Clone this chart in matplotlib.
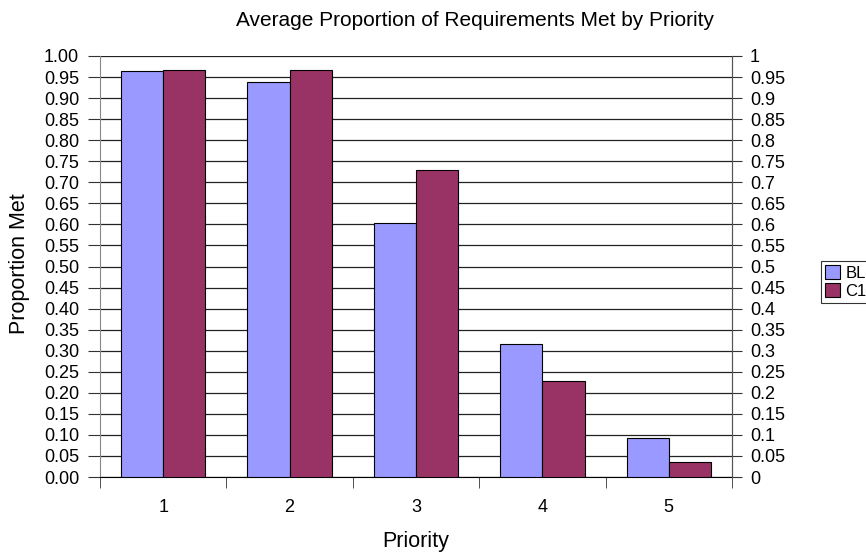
import matplotlib
matplotlib.use("Agg")
import matplotlib.pyplot as plt
import numpy as np

plt.rcParams['font.family'] = ['Liberation Sans', 'DejaVu Sans']

priorities = ["1", "2", "3", "4", "5"]
bl_values = [0.965, 0.938, 0.603, 0.316, 0.092]
c1_values = [0.967, 0.967, 0.729, 0.227, 0.035]
series_names = ["BL", "C1"]
left_ticks = [f"{v:.2f}" for v in np.arange(0, 1.0001, 0.05)]
right_ticks = ["0", "0.05", "0.1", "0.15", "0.2", "0.25", "0.3", "0.35", "0.4", "0.45",
               "0.5", "0.55", "0.6", "0.65", "0.7", "0.75", "0.8", "0.85", "0.9", "0.95", "1"]

fig = plt.figure(figsize=(8.66, 5.55), dpi=100)
ax = fig.add_axes([100/866, 1-477/555, 632/866, 421/555])

x = np.arange(len(priorities))
w = 1/3
ax.bar(x - w/2, bl_values, w, color="#9999FF", edgecolor="black", linewidth=0.8,
       label=series_names[0], zorder=3)
ax.bar(x + w/2, c1_values, w, color="#993366", edgecolor="black", linewidth=0.8,
       label=series_names[1], zorder=3)

tick_fs = 13
yt = np.arange(0, 1.0001, 0.05)
ax.set_ylim(0, 1.0)
ax.set_xlim(-0.5, len(priorities) - 0.5)
ax.set_yticks(yt)
ax.set_yticklabels(left_ticks, fontsize=tick_fs)
ax.yaxis.grid(True, color="#222222", linewidth=0.9, zorder=0)
ax.set_axisbelow(True)

# category labels centered, tick marks at category boundaries
ax.set_xticks(x)
ax.set_xticklabels(priorities, fontsize=tick_fs)
ax.tick_params(axis="x", length=0, pad=16)
ax.set_xticks(np.arange(-0.5, len(priorities)), minor=True)
ax.tick_params(axis="x", which="minor", length=8, direction="out", color="#333333")
ax.tick_params(axis="y", length=9, direction="out", color="#333333", pad=6)

ax.spines["top"].set_visible(False)
ax.spines["left"].set_color("#888888")
ax.spines["right"].set_color("#555555")
ax.spines["bottom"].set_color("black")

ax2 = ax.twinx()
ax2.set_ylim(0, 1.0)
ax2.set_yticks(yt)
ax2.set_yticklabels(right_ticks, fontsize=tick_fs)
ax2.tick_params(axis="y", length=7, direction="out", color="#333333", pad=6)
ax2.spines["top"].set_visible(False)
ax2.spines["right"].set_color("#555555")
ax2.spines["left"].set_visible(False)
ax2.spines["bottom"].set_visible(False)

fig.text(20/866, 1-264/555, "Proportion Met", rotation=90, ha="center", va="center",
         fontsize=15.5)
fig.text(416/866, 1-541/555, "Priority", ha="center", va="center", fontsize=15.5)
fig.text(475/866, 1-20/555, "Average Proportion of Requirements Met by Priority",
         ha="center", va="center", fontsize=15)

leg = fig.legend(loc="upper left", bbox_to_anchor=(821/866, 1-261/555), fontsize=12,
                 frameon=True, fancybox=False, edgecolor="black", handlelength=0.9,
                 handleheight=0.9, handletextpad=0.3, borderpad=0.25, labelspacing=0.15,
                 borderaxespad=0)
leg.get_frame().set_linewidth(0.8)

fig.savefig("out.png", dpi=100)
